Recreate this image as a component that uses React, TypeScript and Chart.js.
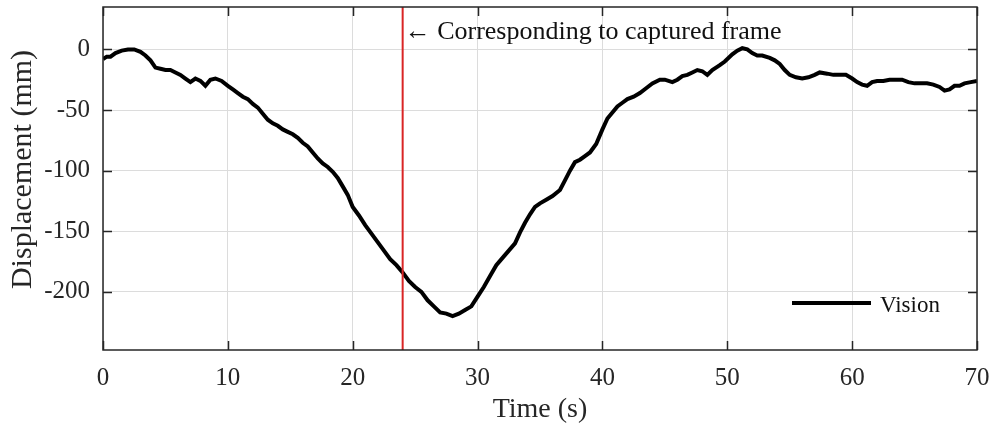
import React, { useEffect, useRef } from "react";
import { Chart, registerables } from "chart.js";

Chart.register(...registerables);

const timeS = [
  0, 0.3, 0.6, 1.0, 1.5, 2.0, 2.5, 3.0, 3.4, 3.8, 4.2, 4.6, 5.0, 5.4, 5.8, 6.2, 6.6, 7.0, 7.4, 7.8,
  8.2, 8.6, 9.0, 9.5, 10.0, 10.4, 10.8, 11.2, 11.6, 12.0, 12.4, 12.8, 13.2, 13.6, 14.0, 14.4, 14.8,
  15.2, 15.6, 16.0, 16.4, 16.8, 17.2, 17.6, 18.0, 18.4, 18.8, 19.2, 19.6, 20.0, 20.5, 21.0, 21.5,
  22.0, 22.5, 23.0, 23.5, 24.0, 24.5, 25.0, 25.5, 26.0, 26.5, 27.0, 27.5, 28.0, 28.5, 29.0, 29.5,
  30.0, 30.5, 31.0, 31.5, 32.0, 32.5, 33.0, 33.4, 33.8, 34.2, 34.6, 35.0, 35.5, 36.0, 36.6, 37.0,
  37.4, 37.8, 38.2, 38.6, 39.0, 39.5, 40.0, 40.4, 40.8, 41.2, 41.6, 42.0, 42.5, 43.0, 43.5, 44.0,
  44.6, 45.0, 45.6, 46.0, 46.4, 46.8, 47.2, 47.6, 48.0, 48.4, 48.8, 49.4, 49.8, 50.4, 50.8, 51.2,
  51.6, 52.0, 52.4, 52.8, 53.4, 53.8, 54.2, 54.6, 55.0, 55.5, 56.0, 56.5, 57.0, 57.4, 58.0, 58.5,
  59.0, 59.5, 60.0, 60.4, 60.8, 61.2, 61.6, 62.0, 62.5, 63.0, 63.5, 64.0, 64.5, 65.0, 65.5, 66.0,
  66.5, 67.0, 67.4, 67.8, 68.2, 68.6, 69.0, 69.5, 70.0,
];

const displacementMm = [
  -8, -6, -6, -3, -1, 0, 0, -2, -5, -9, -15, -16, -17, -17, -19, -21, -24, -27, -24, -26,
  -30, -25, -24, -26, -30, -33, -36, -39, -41, -45, -48, -53, -58, -61, -63, -66, -68,
  -70, -73, -77, -80, -85, -90, -94, -97, -101, -106, -113, -120, -130, -137, -145, -152,
  -159, -166, -173, -178, -184, -191, -196, -200, -207, -212, -217, -218, -220, -218, -215, -212,
  -204, -196, -187, -178, -172, -166, -160, -151, -143, -136, -130, -127, -124, -121, -116, -108,
  -100, -93, -91, -88, -85, -78, -66, -57, -52, -47, -44, -41, -39, -36, -32, -28,
  -25, -25, -27, -25, -22, -21, -19, -17, -18, -21, -17, -13, -10, -4, -1, 1,
  0, -3, -5, -5, -7, -9, -12, -17, -21, -23, -24, -23, -21, -19, -20, -21,
  -21, -21, -24, -27, -29, -30, -27, -26, -26, -25, -25, -25, -27, -28, -28, -28,
  -29, -31, -34, -33, -30, -30, -28, -27, -26,
];

const xTicks = [0, 10, 20, 30, 40, 50, 60, 70];
const yTicks = [-200, -150, -100, -50, 0];
const xMin = 0;
const xMax = 70;
const yMin = -248;
const yMax = 35;
const frameTime = 24;
const annotationText = "\u2190 Corresponding to captured frame";
const legendLabel = "Vision";
const xTitle = "Time (s)";
const yTitle = "Displacement (mm)";

const SERIF = '"Liberation Serif", "Times New Roman", serif';
const INK = "#262626";

const decorPlugin = {
  id: "decor",
  afterDraw(chart: any) {
    const { ctx, chartArea, scales } = chart;
    const { left, right, top, bottom } = chartArea;
    ctx.save();
    // box
    ctx.strokeStyle = INK;
    ctx.lineWidth = 1.5;
    ctx.strokeRect(left, top, right - left, bottom - top);
    // inward ticks
    const tl = 9;
    ctx.beginPath();
    for (const v of xTicks) {
      const px = Math.round(scales.x.getPixelForValue(v)) + 0.5;
      ctx.moveTo(px, bottom);
      ctx.lineTo(px, bottom - tl);
      ctx.moveTo(px, top);
      ctx.lineTo(px, top + tl);
    }
    for (const v of yTicks) {
      const py = Math.round(scales.y.getPixelForValue(v)) + 0.5;
      ctx.moveTo(left, py);
      ctx.lineTo(left + tl, py);
      ctx.moveTo(right, py);
      ctx.lineTo(right - tl, py);
    }
    ctx.stroke();
    // y axis title
    ctx.save();
    ctx.fillStyle = INK;
    ctx.font = `30px ${SERIF}`;
    ctx.textAlign = "center";
    ctx.textBaseline = "middle";
    ctx.translate(23, (top + bottom) / 2 - 9);
    ctx.rotate(-Math.PI / 2);
    ctx.fillText(yTitle, 0, 0);
    ctx.restore();
    // annotation
    ctx.fillStyle = "#111";
    ctx.font = `26px ${SERIF}`;
    ctx.textAlign = "left";
    ctx.textBaseline = "alphabetic";
    ctx.fillText(annotationText, scales.x.getPixelForValue(frameTime) + 2, top + 32);
    // legend
    const ly = bottom - 47;
    ctx.strokeStyle = "#000";
    ctx.lineWidth = 4;
    ctx.beginPath();
    ctx.moveTo(right - 185, ly);
    ctx.lineTo(right - 106, ly);
    ctx.stroke();
    ctx.font = `23px ${SERIF}`;
    ctx.fillText(legendLabel, right - 97, ly + 9);
    ctx.restore();
  },
};

export default function App() {
  const ref = useRef<HTMLCanvasElement | null>(null);

  useEffect(() => {
    if (!ref.current) return;
    const chart = new Chart(ref.current, {
      type: "line",
      data: {
        datasets: [
          {
            label: "frame",
            data: [
              { x: frameTime, y: yMin },
              { x: frameTime, y: yMax },
            ],
            borderColor: "#d92525",
            borderWidth: 2,
            pointRadius: 0,
            order: 0,
          },
          {
            label: legendLabel,
            data: timeS.map((t, i) => ({ x: t, y: displacementMm[i] })),
            borderColor: "#000",
            borderWidth: 4,
            pointRadius: 0,
            tension: 0,
            order: 1,
          },
        ],
      },
      options: {
        animation: false,
        responsive: false,
        devicePixelRatio: 1,
        layout: { padding: { left: 0, right: 15, top: 7, bottom: 0 } },
        plugins: { legend: { display: false }, tooltip: { enabled: false } },
        scales: {
          x: {
            type: "linear",
            min: xMin,
            max: xMax,
            afterBuildTicks: (s: any) => {
              s.ticks = xTicks.map((v) => ({ value: v }));
            },
            afterFit: (s: any) => {
              s.height = 78;
              s.paddingLeft = 0;
              s.paddingRight = 0;
            },
            grid: { color: "#dcdcdc", lineWidth: 1, drawTicks: false },
            border: { display: false },
            ticks: {
              font: { family: SERIF, size: 25 },
              color: INK,
              padding: 13,
              maxRotation: 0,
              autoSkip: false,
            },
            title: {
              display: true,
              text: xTitle,
              font: { family: SERIF, size: 28 },
              color: INK,
              padding: { top: 0, bottom: 2 },
            },
          },
          y: {
            type: "linear",
            min: yMin,
            max: yMax,
            afterBuildTicks: (s: any) => {
              s.ticks = yTicks.map((v) => ({ value: v }));
            },
            afterFit: (s: any) => {
              s.width = 103;
              s.paddingTop = 0;
              s.paddingBottom = 0;
            },
            grid: { color: "#dcdcdc", lineWidth: 1, drawTicks: false },
            border: { display: false },
            ticks: {
              font: { family: SERIF, size: 25 },
              color: INK,
              padding: 13,
              autoSkip: false,
            },
            title: { display: false },
          },
        },
      },
      plugins: [decorPlugin],
    } as any);
    return () => chart.destroy();
  }, []);

  return (
    <div style={{ position: "absolute", left: 0, top: 0, width: 992, height: 428, background: "#fff" }}>
      <canvas ref={ref} width={992} height={428} style={{ display: "block" }} />
    </div>
  );
}
